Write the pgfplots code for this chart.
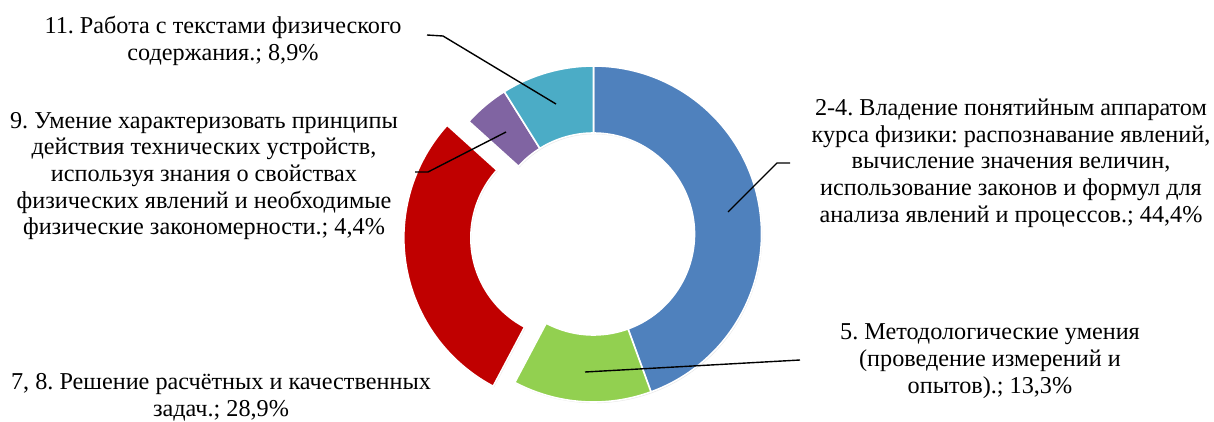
\documentclass[border=0pt]{standalone}
\usepackage{fontspec}
\setmainfont{Liberation Serif}
\usepackage{pgfplots}
\usepackage{pgfplotstable}
\pgfplotsset{compat=1.18}
\usetikzlibrary{shadows}
\frenchspacing

\definecolor{cBlue}{HTML}{4F81BD}
\definecolor{cGreen}{HTML}{92D050}
\definecolor{cRed}{HTML}{C00000}
\definecolor{cPurple}{HTML}{8064A2}
\definecolor{cCyan}{HTML}{4BACC6}

\tikzset{lbl/.style={font=\fontsize{24.3}{26.8}\selectfont, align=center, inner sep=0pt}}

% shares in percent, clockwise from 12 o'clock
\pgfplotstableread{
value explode
44.4 0
13.3 0
28.9 22
4.4 0
8.9 0
}\slices

\pgfplotstablegetelem{0}{value}\of\slices \let\vA\pgfplotsretval
\pgfplotstablegetelem{1}{value}\of\slices \let\vB\pgfplotsretval
\pgfplotstablegetelem{2}{value}\of\slices \let\vC\pgfplotsretval
\pgfplotstablegetelem{3}{value}\of\slices \let\vD\pgfplotsretval
\pgfplotstablegetelem{4}{value}\of\slices \let\vE\pgfplotsretval
\pgfmathsetmacro\tot{\vA+\vB+\vC+\vD+\vE}
\pgfmathsetmacro\aA{90}
\pgfmathsetmacro\aB{\aA-360*\vA/\tot}
\pgfmathsetmacro\aC{\aB-360*\vB/\tot}
\pgfmathsetmacro\aD{\aC-360*\vC/\tot}
\pgfmathsetmacro\aE{\aD-360*\vD/\tot}
\pgfmathsetmacro\aF{\aE-360*\vE/\tot}
\pgfmathsetmacro\mC{(\aC+\aD)/2}

\newcommand\Rout{168bp}
\newcommand\Rin{101bp}
% #1 start angle, #2 end angle, #3 colour, #4 explode (bp), #5 explode direction
\newcommand\slice[5]{%
  \fill[#3, draw=white, line width=1.6pt,
        drop shadow={opacity=0.18, shadow xshift=0.8bp, shadow yshift=-1.2bp}]
    ([shift={(#5:#4bp)}]#1:\Rout) arc[start angle=#1, end angle=#2, radius=\Rout]
    -- ([shift={(#5:#4bp)}]#2:\Rin) arc[start angle=#2, end angle=#1, radius=\Rin]
    -- cycle;}

\begin{document}
\begin{tikzpicture}
\begin{axis}[
  scale only axis, width=1214bp, height=421bp,
  xmin=0, xmax=1214, ymin=0, ymax=421, y dir=reverse,
  hide axis, clip=false,
]
\coordinate (bl) at (rel axis cs:0,0);
\coordinate (tr) at (rel axis cs:1,1);
\begin{scope}[shift={(axis cs:593.5,234)}]
  \slice{\aA}{\aB}{cBlue}{0}{0}
  \slice{\aB}{\aC}{cGreen}{0}{0}
  \slice{\aC}{\aD}{cRed}{22}{\mC}
  \slice{\aD}{\aE}{cPurple}{0}{0}
  \slice{\aE}{\aF}{cCyan}{0}{0}
\end{scope}
% leader lines
\addplot[black, line width=1.4pt, no marks] coordinates {(427,35) (443,36) (556,104)};
\addplot[black, line width=1.4pt, no marks] coordinates {(506,132) (428,172) (415,172)};
\addplot[black, line width=1.4pt, no marks] coordinates {(728,212) (777,163) (790,163)};
\addplot[black, line width=1.4pt, no marks] coordinates {(585,372) (800,360)};
% labels
\node[lbl] at (axis cs:223,41) {11. Работа с текстами физического\\содержания.; 8,9\%};
\node[lbl] at (axis cs:204,176) {9. Умение характеризовать принципы\\действия технических устройств,\\используя знания о свойствах\\физических явлений и необходимые\\физические закономерности.; 4,4\%};
\node[lbl] at (axis cs:1011,163) {2-4. Владение понятийным аппаратом\\курса физики: распознавание явлений,\\вычисление значения величин,\\использование законов и формул для\\анализа явлений и процессов.; 44,4\%};
\node[lbl] at (axis cs:990,361) {5. Методологические умения\\(проведение измерений и\\опытов).; 13,3\%};
\node[lbl] at (axis cs:221,397) {7, 8. Решение расчётных и качественных\\задач.; 28,9\%};
\end{axis}
\pgfresetboundingbox
\path (bl) rectangle (tr);
\end{tikzpicture}
\end{document}
